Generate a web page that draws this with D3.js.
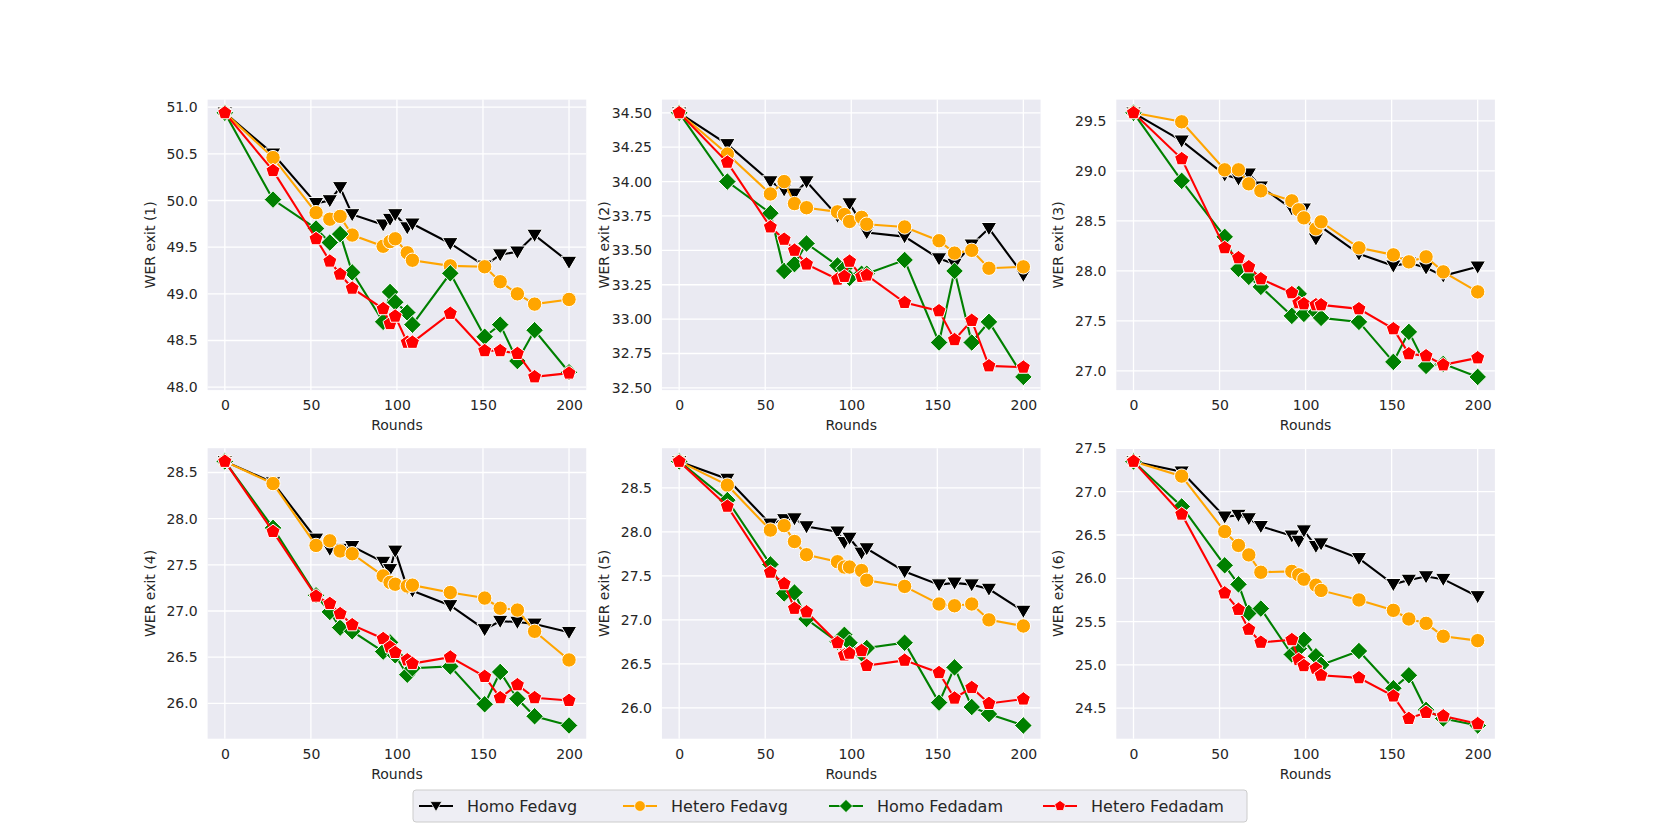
<!DOCTYPE html>
<html>
<head>
<meta charset="utf-8">
<script src="https://cdn.jsdelivr.net/npm/d3@7"></script>
<style>
  body { margin: 0; background: #fff; }
  text { font-family: "DejaVu Sans", sans-serif; fill: #262626; }
</style>
</head>
<body>
<div id="chart"></div>
<script>
// Rounds at which each exit was evaluated
const rounds = [0, 28, 53, 61, 67, 74, 92, 96, 99, 106, 109, 131, 151, 160, 170, 180, 200];

// WER per exit (one row per exit 1..6)
const homoFedavg = [
  [50.94, 50.5, 49.97, 50.0, 50.14, 49.85, 49.74, 49.8, 49.85, 49.71, 49.75, 49.54, 49.3, 49.42, 49.45, 49.63, 49.34],
  [34.5, 34.27, 34.0, 33.94, 33.91, 34.0, 33.75, 33.73, 33.84, 33.7, 33.63, 33.6, 33.44, 33.4, 33.54, 33.66, 33.32],
  [29.58, 29.3, 28.96, 28.92, 28.97, 28.84, 28.62, 28.61, 28.62, 28.32, 28.44, 28.17, 28.05, 28.08, 28.03, 27.95, 28.04],
  [28.62, 28.39, 27.78, 27.67, 27.67, 27.7, 27.53, 27.45, 27.65, 27.25, 27.22, 27.06, 26.8, 26.89, 26.88, 26.86, 26.77],
  [28.8, 28.6, 28.09, 28.14, 28.15, 28.06, 28.0, 27.88, 27.93, 27.76, 27.81, 27.55, 27.4, 27.42, 27.4, 27.35, 27.1],
  [27.35, 27.23, 26.71, 26.73, 26.69, 26.6, 26.49, 26.43, 26.55, 26.37, 26.4, 26.23, 25.93, 25.98, 26.02, 25.99, 25.79]
];
const heteroFedavg = [
  [50.94, 50.46, 49.87, 49.8, 49.83, 49.63, 49.51, 49.56, 49.59, 49.44, 49.36, 49.3, 49.29, 49.13, 49.0, 48.89, 48.94],
  [34.5, 34.2, 33.91, 34.0, 33.84, 33.81, 33.78, 33.76, 33.71, 33.74, 33.69, 33.67, 33.57, 33.48, 33.5, 33.37, 33.38],
  [29.58, 29.49, 29.01, 29.01, 28.87, 28.8, 28.7, 28.61, 28.53, 28.42, 28.49, 28.23, 28.16, 28.09, 28.14, 27.99, 27.79],
  [28.62, 28.38, 27.71, 27.76, 27.65, 27.62, 27.38, 27.31, 27.29, 27.27, 27.28, 27.2, 27.14, 27.03, 27.01, 26.78, 26.47],
  [28.8, 28.53, 28.02, 28.07, 27.89, 27.74, 27.66, 27.6, 27.6, 27.56, 27.45, 27.38, 27.18, 27.16, 27.18, 27.0, 26.93],
  [27.35, 27.18, 26.54, 26.38, 26.27, 26.07, 26.08, 26.04, 25.99, 25.92, 25.86, 25.75, 25.63, 25.53, 25.48, 25.33, 25.28]
];
const homoFedadam = [
  [50.94, 50.01, 49.7, 49.55, 49.64, 49.23, 48.7, 49.02, 48.91, 48.8, 48.67, 49.22, 48.54, 48.67, 48.28, 48.61, 48.16],
  [34.5, 34.0, 33.77, 33.35, 33.4, 33.55, 33.39, 33.37, 33.3, 33.33, 33.33, 33.43, 32.83, 33.35, 32.83, 32.98, 32.58],
  [29.58, 28.9, 28.34, 28.02, 27.94, 27.84, 27.55, 27.77, 27.57, 27.59, 27.53, 27.49, 27.09, 27.39, 27.05, 27.07, 26.94],
  [28.62, 27.9, 27.17, 26.99, 26.82, 26.78, 26.56, 26.66, 26.52, 26.31, 26.38, 26.4, 25.99, 26.34, 26.05, 25.86, 25.76],
  [28.8, 28.36, 27.63, 27.3, 27.31, 27.01, 26.75, 26.83, 26.74, 26.62, 26.68, 26.74, 26.06, 26.46, 26.01, 25.93, 25.8],
  [27.35, 26.83, 26.15, 25.93, 25.6, 25.65, 25.12, 25.19, 25.29, 25.1, 25.0, 25.16, 24.73, 24.88, 24.48, 24.38, 24.3]
];
const heteroFedadam = [
  [50.94, 50.32, 49.59, 49.35, 49.21, 49.06, 48.84, 48.68, 48.76, 48.48, 48.48, 48.79, 48.39, 48.39, 48.36, 48.11, 48.15],
  [34.5, 34.14, 33.67, 33.58, 33.5, 33.4, 33.29, 33.31, 33.42, 33.31, 33.32, 33.12, 33.06, 32.85, 32.99, 32.66, 32.65],
  [29.58, 29.12, 28.23, 28.13, 28.04, 27.92, 27.78, 27.68, 27.67, 27.66, 27.66, 27.62, 27.42, 27.17, 27.15, 27.06, 27.13],
  [28.62, 27.86, 27.16, 27.08, 26.97, 26.85, 26.7, 26.61, 26.55, 26.47, 26.43, 26.5, 26.29, 26.06, 26.2, 26.06, 26.03],
  [28.8, 28.29, 27.54, 27.41, 27.13, 27.09, 26.74, 26.6, 26.62, 26.65, 26.48, 26.54, 26.4, 26.11, 26.23, 26.05, 26.1],
  [27.35, 26.74, 25.83, 25.64, 25.41, 25.26, 25.29, 25.06, 24.99, 24.96, 24.88, 24.85, 24.64, 24.38, 24.45, 24.41, 24.32]
];

// Tick labels
const xTicks = [0, 50, 100, 150, 200];
const yTicks = [
  [48.0, 48.5, 49.0, 49.5, 50.0, 50.5, 51.0],
  [32.5, 32.75, 33.0, 33.25, 33.5, 33.75, 34.0, 34.25, 34.5],
  [27.0, 27.5, 28.0, 28.5, 29.0, 29.5],
  [26.0, 26.5, 27.0, 27.5, 28.0, 28.5],
  [26.0, 26.5, 27.0, 27.5, 28.0, 28.5],
  [24.5, 25.0, 25.5, 26.0, 26.5, 27.0, 27.5]
];
const yFormats = [".1f", ".2f", ".1f", ".1f", ".1f", ".1f"];
const seriesNames = ["Homo Fedavg", "Hetero Fedavg", "Homo Fedadam", "Hetero Fedadam"];
const seriesColors = ["#000000", "#FFA500", "#008000", "#FF0000"];
const seriesMarkers = ["tri", "circle", "diamond", "pent"];
const seriesData = [homoFedavg, heteroFedavg, homoFedadam, heteroFedadam];

// Figure layout (matplotlib default subplot params)
const W = 1661, H = 830;
const figLeft = 0.125 * W, figRight = 0.9 * W, figTop = 0.12 * H, figBottom = 0.89 * H;
const pw = (figRight - figLeft) / 3.4, ph = (figBottom - figTop) / 2.2;

const svg = d3.select("#chart").append("svg")
  .attr("width", W).attr("height", H);
svg.append("rect").attr("width", W).attr("height", H).attr("fill", "#fff");

// marker path builders
function markerPath(type) {
  if (type === "circle") {
    const r = 7.2;
    return `M${r},0A${r},${r} 0 1,1 ${-r},0A${r},${r} 0 1,1 ${r},0Z`;
  }
  if (type === "diamond") {
    const r = 8.8;
    return `M0,${-r}L${r},0L0,${r}L${-r},0Z`;
  }
  if (type === "tri") {
    const r = 7.8;
    return `M${-r},${-r * 0.75}L${r},${-r * 0.75}L0,${r * 0.95}Z`;
  }
  // pentagon
  const r = 7.4;
  const pts = d3.range(5).map(i => {
    const a = -Math.PI / 2 + i * 2 * Math.PI / 5;
    return [r * Math.cos(a), r * Math.sin(a)];
  });
  return "M" + pts.map(p => p.join(",")).join("L") + "Z";
}

for (let k = 0; k < 6; k++) {
  const col = k % 3, row = Math.floor(k / 3);
  const x0 = figLeft + col * pw * 1.2;
  const y0 = figTop + row * ph * 1.2;
  const g = svg.append("g").attr("transform", `translate(${x0},${y0})`);

  const allVals = seriesData.flatMap(s => s[k]);
  const [mn, mx] = d3.extent(allVals);
  const pad = (mx - mn) * 0.05;
  const x = d3.scaleLinear().domain([-10, 210]).range([0, pw]);
  const y = d3.scaleLinear().domain([mn - pad, mx + pad]).range([ph, 0]);

  g.append("rect").attr("width", pw).attr("height", ph).attr("fill", "#EAEAF2");

  // grid
  g.selectAll(".gx").data(xTicks).enter().append("line")
    .attr("x1", d => x(d)).attr("x2", d => x(d))
    .attr("y1", 0).attr("y2", ph)
    .attr("stroke", "#fff").attr("stroke-width", 1.3);
  g.selectAll(".gy").data(yTicks[k]).enter().append("line")
    .attr("x1", 0).attr("x2", pw)
    .attr("y1", d => y(d)).attr("y2", d => y(d))
    .attr("stroke", "#fff").attr("stroke-width", 1.3);

  // axes
  const xAxis = g.append("g").attr("transform", `translate(0,${ph})`)
    .call(d3.axisBottom(x).tickValues(xTicks).tickSize(0).tickPadding(10));
  const yAxis = g.append("g")
    .call(d3.axisLeft(y).tickValues(yTicks[k]).tickFormat(d3.format(yFormats[k])).tickSize(0).tickPadding(10));
  [xAxis, yAxis].forEach(a => {
    a.select(".domain").remove();
    a.selectAll("text").style("font-size", "14px").attr("fill", "#262626")
      .style("font-family", "'DejaVu Sans', sans-serif");
  });

  g.append("text").attr("x", pw / 2).attr("y", ph + 40)
    .attr("text-anchor", "middle").style("font-size", "14px").text("Rounds");
  g.append("text")
    .attr("transform", `translate(-53,${ph / 2}) rotate(-90)`)
    .attr("text-anchor", "middle").style("font-size", "14px")
    .text(`WER exit (${k + 1})`);

  const line = d3.line().x((d, i) => x(rounds[i])).y(d => y(d));

  seriesData.forEach((s, si) => {
    const vals = s[k];
    g.append("path").datum(vals).attr("d", line)
      .attr("fill", "none").attr("stroke", seriesColors[si]).attr("stroke-width", 2.1);
    g.selectAll(null).data(vals).enter().append("path")
      .attr("transform", (d, i) => `translate(${x(rounds[i])},${y(d)})`)
      .attr("d", markerPath(seriesMarkers[si]))
      .attr("fill", seriesColors[si]).attr("stroke", "#fff").attr("stroke-width", 1);
  });
}

// Legend
const legendX = [419, 623, 829, 1043];
const legend = svg.append("g");
legend.append("rect").attr("x", 413).attr("y", 790).attr("width", 834).attr("height", 32)
  .attr("rx", 3).attr("fill", "#EEEEF4").attr("stroke", "#CCCCCC").attr("stroke-width", 1);
seriesNames.forEach((name, i) => {
  const lg = legend.append("g").attr("transform", `translate(${legendX[i]},806)`);
  lg.append("line").attr("x1", 0).attr("x2", 34).attr("stroke", seriesColors[i]).attr("stroke-width", 2);
  lg.append("path").attr("transform", "translate(17,0) scale(0.75)")
    .attr("d", markerPath(seriesMarkers[i])).attr("fill", seriesColors[i])
    .attr("stroke", "#fff").attr("stroke-width", 1);
  lg.append("text").attr("x", 48).attr("y", 0).attr("dy", "0.35em")
    .style("font-size", "16px").text(name);
});
</script>
</body>
</html>
